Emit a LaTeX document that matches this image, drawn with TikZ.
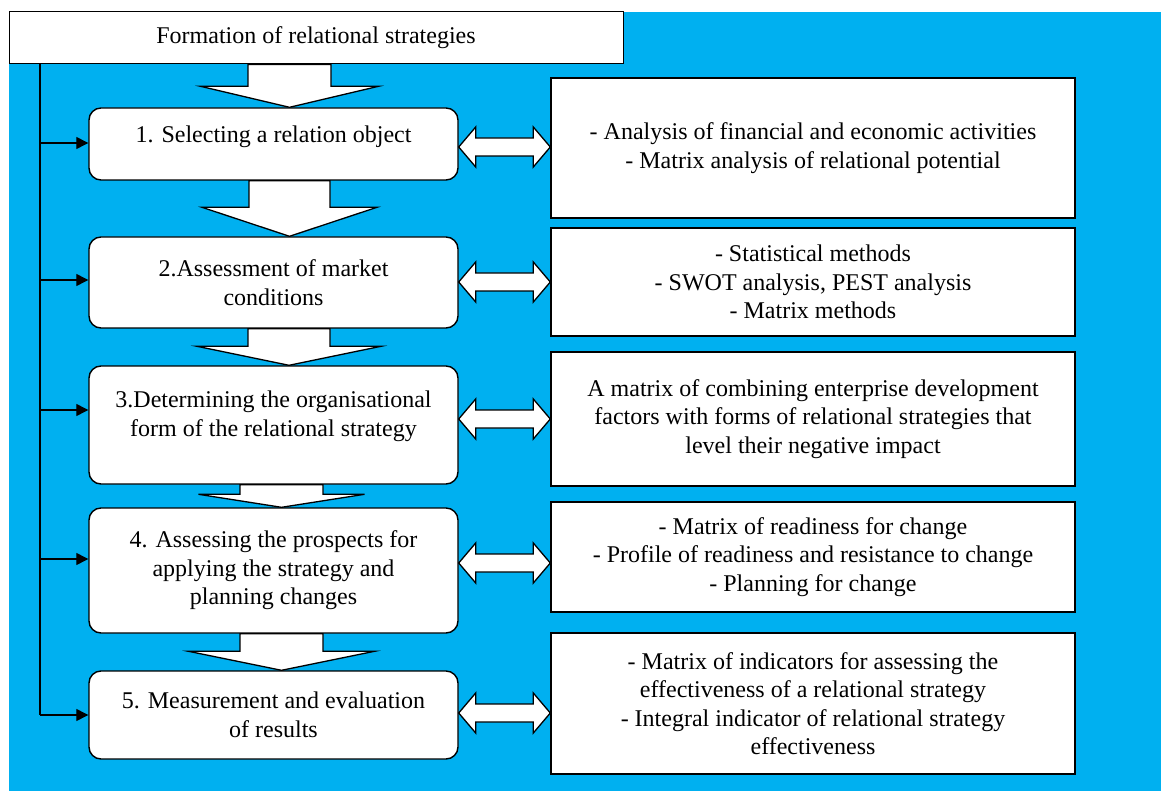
\documentclass[tikz,border=0pt]{standalone}
\usepackage{fontspec}
\setmainfont{Liberation Serif}
\usetikzlibrary{arrows.meta}
\definecolor{panelblue}{RGB}{0,176,240}

% from, to, x centre, half shaft, half head, head length
\newcommand{\flowarrow}[6]{%
	\draw[blockline] (#3-#4,0 |- #1.south) -- (#3+#4,0 |- #1.south)
		-- ([yshift=#6pt]#3+#4,0 |- #2.north) -- ++(#5-#4,0) -- (#3,0 |- #2.north)
		-- ([yshift=#6pt]#3-#5,0 |- #2.north) -- ++(#5-#4,0) -- cycle;}
% stage, method, y
\newcommand{\linkarrow}[3]{%
	\draw[blockline] (#1.east |- 0,#3) -- ++(17,-20) -- ++(0,11)
		-- ([xshift=-17pt,yshift=9pt]#2.west |- 0,#3) -- ++(0,-11) -- (#2.west |- 0,#3)
		-- ++(-17,20) -- ++(0,-11) -- ([xshift=17pt,yshift=-9pt]#1.east |- 0,#3) -- ++(0,11) -- cycle;}

\begin{document}
\begin{tikzpicture}[x=1pt,y=-1pt,
		every node/.style={font=\fontsize{24}{28.5}\selectfont, align=center, inner sep=0pt},
		stage/.style={draw=black, line width=1.4pt, fill=white, rounded corners=12pt,
			minimum width=369pt, minimum height=#1},
		method/.style={draw=black, line width=1.4pt, fill=white, minimum width=524pt, minimum height=#1},
		blockline/.style={draw=black, line width=1.3pt, fill=white, line join=miter},
		feed/.style={line width=1.3pt, -{Triangle[length=12pt,width=12pt]}}]
	\useasboundingbox (0,0) rectangle (1161,791);
	\fill[panelblue] (9,12) rectangle (1161,791);

	\node[draw=black, line width=1pt, fill=white, minimum width=614pt, minimum height=52pt]
		(title) at (316,38) {Formation of relational strategies};

	% stages
	\node[stage=72, text depth=19pt] (s1) at (273.5,144) {1. Selecting a relation object};
	\node[stage=91] (s2) at (273.5,282.5) {2.Assessment of market\\conditions};
	\node[stage=118, text depth=23pt] (s3) at (273.5,425) {3.Determining the organisational\\form of the relational strategy};
	\node[stage=125] (s4) at (273.5,570.5) {4. Assessing the prospects for\\applying the strategy and\\planning changes};
	\node[stage=88] (s5) at (273.5,715) {5. Measurement and evaluation\\of results};

	% methods
	\node[method=140] (m1) at (813,148) {- Analysis of financial and economic activities\\- Matrix analysis of relational potential};
	\node[method=108] (m2) at (813,282) {- Statistical methods\\- SWOT analysis, PEST analysis\\- Matrix methods};
	\node[method=134] (m3) at (813,419) {A matrix of combining enterprise development\\factors with forms of relational strategies that\\level their negative impact};
	\node[method=110] (m4) at (813,557) {- Matrix of readiness for change\\- Profile of readiness and resistance to change\\- Planning for change};
	\node[method=141] (m5) at (813,703.5) {- Matrix of indicators for assessing the\\effectiveness of a relational strategy\\- Integral indicator of relational strategy\\effectiveness};

	% block arrows
	\flowarrow{title}{s1}{289.5}{41.5}{89}{21}
	\flowarrow{s1}{s2}{289.5}{40.5}{87.5}{29}
	\flowarrow{s2}{s3}{289}{41}{92}{19}
	\flowarrow{s3}{s4}{281.5}{41.5}{83}{13}
	\flowarrow{s4}{s5}{281.5}{41.5}{93}{19}

	\linkarrow{s1}{m1}{147}
	\linkarrow{s2}{m2}{282}
	\linkarrow{s3}{m3}{419}
	\linkarrow{s4}{m4}{563}
	\linkarrow{s5}{m5}{713}

	% feedback line
	\coordinate (spine) at (40,64);
	\draw[line width=1.3pt] (spine) -- (s5.west -| spine);
	\foreach \s/\d in {s1/1,s2/2.5,s3/15,s4/11.5,s5/0}
		\draw[feed] ([yshift=\d pt]\s.west -| spine) -- ([yshift=\d pt]\s.west);
\end{tikzpicture}
\end{document}
